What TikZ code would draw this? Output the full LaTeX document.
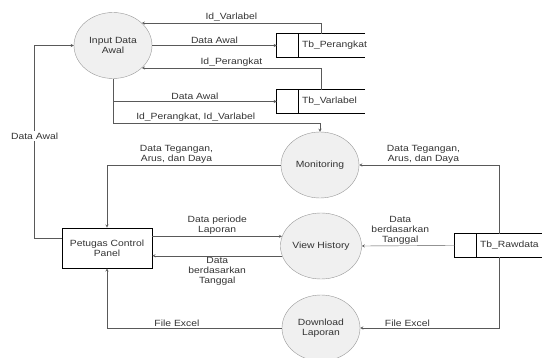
\documentclass[tikz,border=0pt]{standalone}
\usepackage{fontspec}
\setmainfont{Liberation Sans}[FakeStretch=1.15]
\usetikzlibrary{shapes.geometric}

\begin{document}
\begin{tikzpicture}[x=1pt, y=-1pt, font=\fontsize{9}{10}\selectfont,
        proc/.style={ellipse, draw=black!40, fill=black!6, minimum width=78pt, minimum height=66pt, inner sep=0pt, align=center, text=black!80},
        store/.style={minimum width=88pt, minimum height=23pt, inner sep=0pt, text width=88pt, align=left, text=black!80},
        flow/.style={draw=black!65, -stealth},
        lbl/.style={inner sep=1.5pt, align=center, text=black!80}]
        \useasboundingbox (0,0) rectangle (542,358);

        \node[proc] (inp) at (113,45.5) {Input Data\\Awal};
        \node[proc] (mon) at (320,165) {Monitoring};
        \node[proc] (vh) at (321,246) {View History};
        \node[proc] (dl) at (321,328) {Download\\Laporan};
        \node[draw, thick, minimum width=90pt, minimum height=40pt, align=center, text=black!80] (pcp) at (107,248) {Petugas Control\\Panel};

        \foreach \nm/\x/\y/\txt in {tbp/321/45.5/Tb\_Perangkat, tbv/321/101.5/Tb\_Varlabel, tbr/499/245.5/Tb\_Rawdata}
        {
            \node[store] (\nm) at (\x,\y) {\hspace*{25pt}\txt};
            \draw[thick] (\nm.north east) -- (\nm.north west) -- (\nm.south west) -- (\nm.south east);
            \draw[thick] ([xshift=22pt]\nm.north west) -- ([xshift=22pt]\nm.south west);
        }

        \path[flow] (tbp.north) |- (inp.38) node[lbl, pos=0.75, above] {Id\_Varlabel};
        \path[flow] (inp.east) -- (tbp.west) node[lbl, midway, above] {Data Awal};
        \path[flow] (tbv.north) |- (inp.-38) node[lbl, pos=0.75, above] {Id\_Perangkat};
        \path[flow] (inp.south) |- (tbv.west) node[lbl, pos=0.75, above] {Data Awal};
        \path[flow] (inp.south) |- ([yshift=9pt]mon.north) node[lbl, pos=0.7, above] {Id\_Perangkat, Id\_Varlabel} -- (mon.north);

        \path[flow] (tbr.north) |- (mon.east) node[lbl, pos=0.77, above] {Data Tegangan,\\Arus, dan Daya};
        \path[flow] (mon.west) -| (pcp.north) node[lbl, pos=0.3, above] {Data Tegangan,\\Arus, dan Daya};
        \path[flow] ([yshift=10pt]pcp.west) -- ++(-27,0) |- (inp.west) node[lbl, pos=0.265, fill=white] {Data Awal};

        \path[flow] (pcp.east |- vh.166) -- (vh.166) node[lbl, midway, above] {Data periode\\Laporan};
        \path[flow] (vh.194) -- (pcp.east |- vh.194) node[lbl, midway, below] {Data\\berdasarkan\\Tanggal};
        \path[flow] (tbr.west) -- (vh.east) node[lbl, midway, above, xshift=-8pt] {Data\\berdasarkan\\Tanggal};

        \path[flow] (tbr.south) |- (dl.east) node[lbl, pos=0.83, above] {File Excel};
        \path[flow] (dl.west) -| (pcp.south) node[lbl, pos=0.3, above] {File Excel};
    \end{tikzpicture}
\end{document}
